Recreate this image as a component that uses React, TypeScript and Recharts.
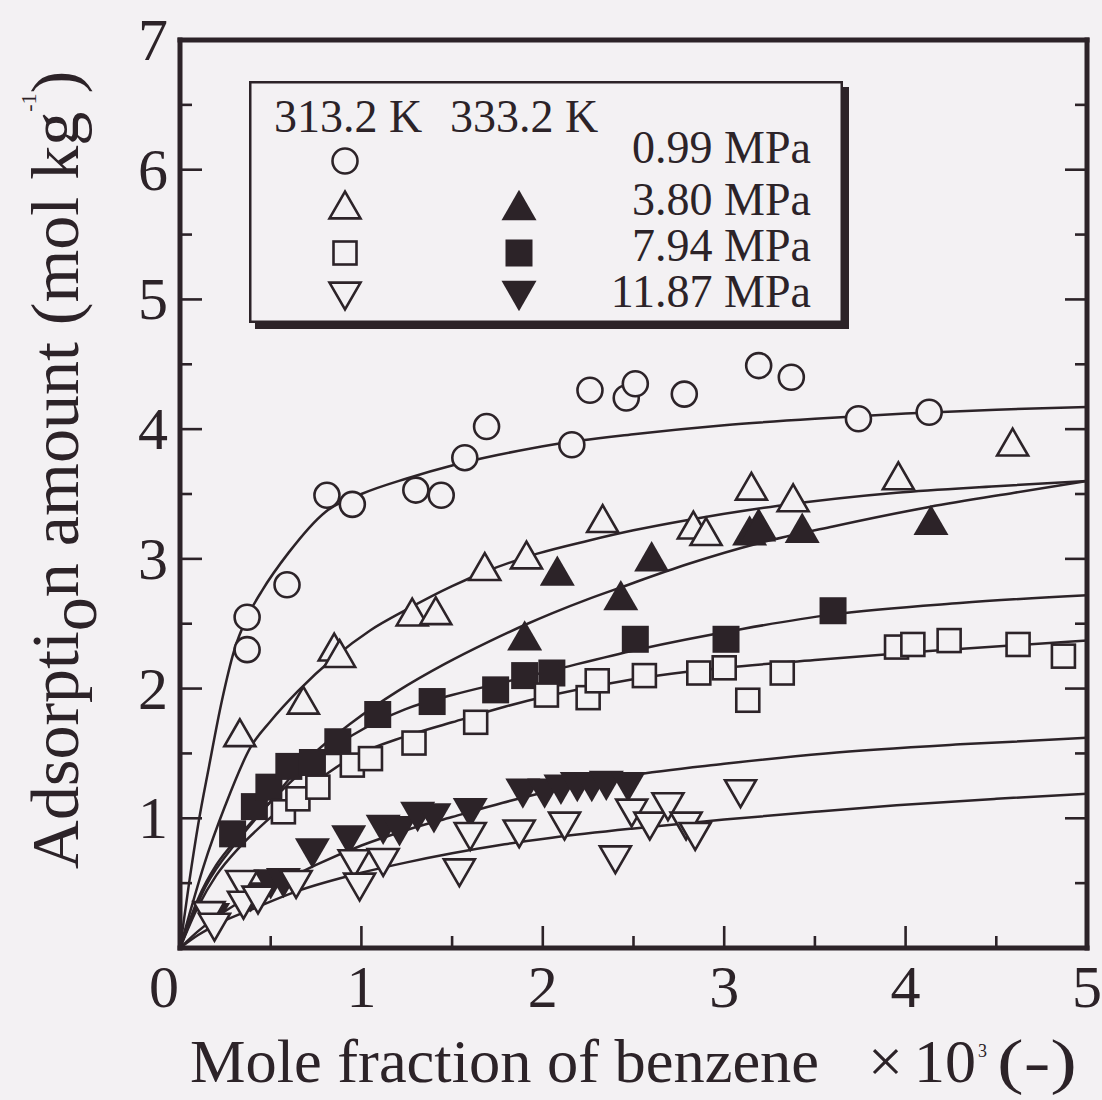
import React from 'react';
import { ComposedChart, XAxis, YAxis, Line, Scatter, Legend } from 'recharts';

type Pt = { x: number; y: number };

const INK = '#2c2328';
const PAPER = '#f3f1f3';
const SERIF = '"Liberation Serif", "Times New Roman", Times, serif';

const W = 1102;
const H = 1100;
// each axis strip is 1px thick, so the plot box spans x 180..1087, y 40..948
const MARGIN = { top: 39, right: 14, bottom: 151, left: 179 };

// axis ticks: integers are labelled, halves are minor marks
const X_TICKS = [0, 0.5, 1, 1.5, 2, 2.5, 3, 3.5, 4, 4.5, 5];
const Y_TICKS = [0, 0.5, 1, 1.5, 2, 2.5, 3, 3.5, 4, 4.5, 5, 5.5, 6, 6.5, 7];

const pts = (a: number[][]): Pt[] => a.map(([x, y]) => ({ x, y }));

// ---- measured adsorption amounts ----
// 313.2 K, 0.99 MPa
const k313p099 = pts([
  [0.37, 2.55], [0.37, 2.3], [0.59, 2.8], [0.81, 3.49], [0.95, 3.42], [1.3, 3.53],
  [1.44, 3.49], [1.57, 3.78], [1.69, 4.02], [2.16, 3.88], [2.26, 4.3], [2.46, 4.24],
  [2.51, 4.35], [2.78, 4.27], [3.19, 4.49], [3.37, 4.4], [3.74, 4.08], [4.13, 4.13],
]);
// 313.2 K, 3.80 MPa
const k313p380 = pts([
  [0.33, 1.66], [0.68, 1.91], [0.85, 2.32], [0.88, 2.27], [1.28, 2.59], [1.41, 2.6],
  [1.68, 2.94], [1.91, 3.03], [2.33, 3.31], [2.83, 3.26], [2.9, 3.21], [3.19, 3.27],
  [3.15, 3.56], [3.38, 3.47], [3.96, 3.64], [4.59, 3.9],
]);
// 333.2 K, 3.80 MPa
const k333p380 = pts([
  [1.9, 2.41], [2.08, 2.91], [2.43, 2.72], [2.6, 3.02], [3.14, 3.22], [3.19, 3.25],
  [3.43, 3.24], [4.14, 3.3],
]);
// 313.2 K, 7.94 MPa
const k313p794 = pts([
  [0.57, 1.05], [0.65, 1.15], [0.76, 1.24], [0.95, 1.41], [1.05, 1.46], [1.29, 1.58],
  [1.63, 1.74], [2.02, 1.95], [2.25, 1.93], [2.3, 2.06], [2.56, 2.1], [2.86, 2.12],
  [3.0, 2.16], [3.13, 1.91], [3.32, 2.12], [3.95, 2.32], [4.04, 2.34], [4.24, 2.37],
  [4.62, 2.34], [4.87, 2.25],
]);
// 333.2 K, 7.94 MPa
const k333p794 = pts([
  [0.29, 0.88], [0.41, 1.09], [0.49, 1.24], [0.6, 1.4], [0.73, 1.43], [0.87, 1.59],
  [1.09, 1.8], [1.39, 1.9], [1.74, 1.99], [1.9, 2.1], [2.05, 2.12], [2.51, 2.38],
  [3.01, 2.38], [3.6, 2.6],
]);
// 313.2 K, 11.87 MPa
const k313p1187 = pts([
  [0.16, 0.25], [0.19, 0.16], [0.34, 0.49], [0.35, 0.33], [0.43, 0.37], [0.64, 0.49],
  [0.96, 0.65], [0.99, 0.47], [1.12, 0.66], [1.54, 0.58], [1.6, 0.86], [1.87, 0.88],
  [2.12, 0.94], [2.4, 0.68], [2.49, 1.04], [2.59, 0.94], [2.69, 1.09], [2.79, 0.94],
  [2.84, 0.86], [3.09, 1.19],
]);
// 333.2 K, 11.87 MPa
const k333p1187 = pts([
  [0.18, 0.23], [0.39, 0.39], [0.5, 0.49], [0.57, 0.5], [0.73, 0.73], [0.93, 0.83],
  [1.12, 0.91], [1.21, 0.9], [1.31, 1.01], [1.4, 1.0], [1.6, 1.04], [1.89, 1.19],
  [2.01, 1.19], [2.1, 1.22], [2.19, 1.24], [2.27, 1.24], [2.35, 1.25], [2.47, 1.24],
]);

// ---- correlated isotherm curves ----
const fit313p099 = pts([
  [0, 0], [0.05, 0.5], [0.1, 0.95], [0.16, 1.4], [0.23, 1.9], [0.3, 2.3], [0.37, 2.55],
  [0.45, 2.75], [0.6, 3.05], [0.8, 3.36], [1.0, 3.5], [1.25, 3.62], [1.5, 3.72],
  [1.75, 3.8], [2.05, 3.88], [2.5, 3.96], [3.0, 4.03], [3.5, 4.08], [4.0, 4.12],
  [4.5, 4.15], [5, 4.17],
]);
const fit313p380 = pts([
  [0, 0], [0.05, 0.25], [0.13, 0.63], [0.25, 1.1], [0.39, 1.55], [0.5, 1.75], [0.65, 1.98],
  [0.85, 2.24], [1.05, 2.45], [1.25, 2.61], [1.5, 2.79], [1.7, 2.91], [1.97, 3.04],
  [2.25, 3.14], [2.5, 3.22], [2.8, 3.3], [3.3, 3.41], [3.95, 3.51], [4.5, 3.56], [5, 3.6],
]);
const fit333p380 = pts([
  [0, 0], [0.14, 0.47], [0.32, 0.83], [0.5, 1.13], [0.65, 1.38], [0.95, 1.74], [1.2, 1.98],
  [1.46, 2.19], [1.7, 2.36], [1.9, 2.49], [2.05, 2.58], [2.25, 2.69], [2.43, 2.78],
  [2.8, 2.96], [3.19, 3.12], [3.6, 3.25], [4.13, 3.4], [4.6, 3.51], [5, 3.6],
]);
const fit333p794 = pts([
  [0, 0], [0.1, 0.38], [0.2, 0.64], [0.3, 0.82], [0.42, 1.01], [0.55, 1.2], [0.69, 1.38],
  [0.95, 1.64], [1.24, 1.84], [1.5, 1.95], [1.79, 2.05], [2.05, 2.14], [2.52, 2.3],
  [3.1, 2.46], [3.59, 2.57], [4.3, 2.66], [5, 2.72],
]);
const fit313p794 = pts([
  [0, 0], [0.1, 0.32], [0.2, 0.56], [0.33, 0.78], [0.47, 0.97], [0.69, 1.22], [0.95, 1.47],
  [1.24, 1.63], [1.5, 1.74], [1.79, 1.86], [2.05, 1.95], [2.49, 2.07], [3.0, 2.16],
  [3.5, 2.22], [4.13, 2.29], [5, 2.37],
]);
const fit333p1187 = pts([
  [0, 0], [0.1, 0.13], [0.3, 0.33], [0.55, 0.5], [0.75, 0.64], [1.0, 0.79], [1.25, 0.91],
  [1.5, 1.01], [1.78, 1.12], [2.1, 1.23], [2.48, 1.33], [3.0, 1.42], [3.56, 1.5],
  [4.3, 1.57], [5, 1.62],
]);
const fit313p1187 = pts([
  [0, 0], [0.1, 0.1], [0.23, 0.2], [0.4, 0.3], [0.65, 0.44], [1.0, 0.58], [1.25, 0.66],
  [1.5, 0.73], [1.79, 0.8], [2.05, 0.85], [2.49, 0.92], [3.0, 0.99], [3.5, 1.05],
  [3.95, 1.1], [4.5, 1.15], [5, 1.19],
]);

const FITS = [fit313p099, fit313p380, fit333p380, fit333p794, fit313p794, fit333p1187, fit313p1187];

// ---- marker glyphs ----
const SW = 2.6;
const tri = (cx: number, cy: number, side: number, up: boolean) => {
  const h = (side * Math.sqrt(3)) / 2;
  const apex = up ? cy - h / 2 : cy + h / 2;
  const base = up ? cy + h / 2 : cy - h / 2;
  return `${cx},${apex} ${cx - side / 2},${base} ${cx + side / 2},${base}`;
};

type Glyph = (cx: number, cy: number) => React.ReactElement;
const openCircle: Glyph = (cx, cy) => (
  <circle cx={cx} cy={cy} r={12.5} fill={PAPER} stroke={INK} strokeWidth={SW} />
);
const openUp: Glyph = (cx, cy) => (
  <polygon points={tri(cx, cy, 31, true)} fill={PAPER} stroke={INK} strokeWidth={SW} />
);
const solidUp: Glyph = (cx, cy) => <polygon points={tri(cx, cy, 35, true)} fill={INK} />;
const openSquare: Glyph = (cx, cy) => (
  <rect x={cx - 11.5} y={cy - 11.5} width={23} height={23} fill={PAPER} stroke={INK} strokeWidth={SW} />
);
const solidSquare: Glyph = (cx, cy) => (
  <rect x={cx - 13.5} y={cy - 13.5} width={27} height={27} fill={INK} />
);
const openDown: Glyph = (cx, cy) => (
  <polygon points={tri(cx, cy, 31, false)} fill={PAPER} stroke={INK} strokeWidth={SW} />
);
const solidDown: Glyph = (cx, cy) => <polygon points={tri(cx, cy, 35, false)} fill={INK} />;

const shapeOf = (g: Glyph) => (p: any) => g(p.cx, p.cy);

// ---- frame ticks (pointing inwards on all four sides) ----
const isInt = (v: number) => Math.abs(v - Math.round(v)) < 1e-6;
const tickLen = (v: number) => (isInt(v) ? 22 : 12);
const TICK_W = 2.6;

const BottomTick = (p: any) => {
  const v = p.payload.value;
  return (
    <g>
      <line x1={p.x} y1={p.y} x2={p.x} y2={p.y - tickLen(v)} stroke={INK} strokeWidth={TICK_W} />
      {isInt(v) && (
        <text x={p.x + (v === 0 ? -16 : 0)} y={p.y + 59} textAnchor="middle" fontSize={60} fontFamily={SERIF} fill={INK}>
          {v}
        </text>
      )}
    </g>
  );
};
const TopTick = (p: any) => (
  <line x1={p.x} y1={p.y} x2={p.x} y2={p.y + tickLen(p.payload.value)} stroke={INK} strokeWidth={TICK_W} />
);
const LeftTick = (p: any) => {
  const v = p.payload.value;
  return (
    <g>
      <line x1={p.x} y1={p.y} x2={p.x + tickLen(v)} y2={p.y} stroke={INK} strokeWidth={TICK_W} />
      {isInt(v) && v > 0 && (
        <text x={p.x - 12} y={p.y + 20} textAnchor="end" fontSize={60} fontFamily={SERIF} fill={INK}>
          {v}
        </text>
      )}
    </g>
  );
};
const RightTick = (p: any) => (
  <line x1={p.x} y1={p.y} x2={p.x - tickLen(p.payload.value)} y2={p.y} stroke={INK} strokeWidth={TICK_W} />
);

const FRAME = { stroke: INK, strokeWidth: 5, strokeLinecap: 'square' as const };

// ---- legend panel ----
const LEGEND_ROWS = ['0.99 MPa', '3.80 MPa', '7.94 MPa', '11.87 MPa'];
const LEGEND_313: Glyph[] = [openCircle, openUp, openSquare, openDown];
const LEGEND_333: (Glyph | null)[] = [null, solidUp, solidSquare, solidDown];
const ROW_MARK_Y = [80, 124, 172, 215];
const ROW_TEXT_Y = [82, 134, 180, 226];

const LegendPanel = () => (
  <svg width={606} height={254} style={{ display: 'block', overflow: 'visible' }}>
    <rect x={6} y={6} width={594} height={242} fill={INK} />
    <rect x={1.25} y={1.25} width={591.5} height={239.5} fill={PAPER} stroke={INK} strokeWidth={2.5} />
    <text x={25} y={51} fontSize={46} fontFamily={SERIF} fill={INK}>313.2 K</text>
    <text x={201} y={51} fontSize={46} fontFamily={SERIF} fill={INK}>333.2 K</text>
    {LEGEND_ROWS.map((label, i) => (
      <g key={label}>
        {LEGEND_313[i](96, ROW_MARK_Y[i])}
        {LEGEND_333[i] ? (LEGEND_333[i] as Glyph)(270, ROW_MARK_Y[i]) : null}
        <text x={562} y={ROW_TEXT_Y[i]} textAnchor="end" fontSize={46} fontFamily={SERIF} fill={INK}>
          {label}
        </text>
      </g>
    ))}
  </svg>
);

const AxisTitles = () => (
  <g fontFamily={SERIF} fill={INK}>
    <text x={190} y={1082} fontSize={62}>
      <tspan textLength={629} lengthAdjust="spacingAndGlyphs">Mole fraction of benzene</tspan>
      <tspan x={868}>×</tspan>
      <tspan x={914}>10</tspan>
      <tspan x={978} dy={-25} fontSize={18}>3</tspan>
      <tspan x={997} dy={25} textLength={80} lengthAdjust="spacingAndGlyphs">(-)</tspan>
    </text>
    <text x={78} y={470} fontSize={68} textAnchor="middle" transform="rotate(-90, 78, 470)">
      Adsorpti
      <tspan dy={18}>o</tspan>
      <tspan dy={-18}>n amount (mol kg</tspan>
      <tspan dy={-42} fontSize={22}>-1</tspan>
      <tspan dy={42}>)</tspan>
    </text>
  </g>
);

export default function App() {
  return (
    <div style={{ position: 'absolute', left: 0, top: 0, width: W, height: H, background: PAPER }}>
      <ComposedChart width={W} height={H} margin={MARGIN}>
        <XAxis
          xAxisId={0}
          type="number"
          dataKey="x"
          domain={[0, 5]}
          ticks={X_TICKS}
          interval={0}
          height={1}
          tickSize={0}
          tickMargin={0}
          tickLine={false}
          tick={BottomTick}
          axisLine={FRAME}
          allowDataOverflow
        />
        <XAxis
          xAxisId="top"
          orientation="top"
          type="number"
          domain={[0, 5]}
          ticks={X_TICKS}
          interval={0}
          height={1}
          tickSize={0}
          tickMargin={0}
          tickLine={false}
          tick={TopTick}
          axisLine={FRAME}
          allowDataOverflow
        />
        <YAxis
          yAxisId={0}
          type="number"
          domain={[0, 7]}
          ticks={Y_TICKS}
          interval={0}
          width={1}
          tickSize={0}
          tickMargin={0}
          tickLine={false}
          tick={LeftTick}
          axisLine={FRAME}
          allowDataOverflow
        />
        <YAxis
          yAxisId="right"
          orientation="right"
          type="number"
          domain={[0, 7]}
          ticks={Y_TICKS}
          interval={0}
          width={1}
          tickSize={0}
          tickMargin={0}
          tickLine={false}
          tick={RightTick}
          axisLine={FRAME}
          allowDataOverflow
        />
        {FITS.map((d, i) => (
          <Line
            key={`fit-${i}`}
            xAxisId={0}
            yAxisId={0}
            data={d}
            dataKey="y"
            type="monotone"
            stroke={INK}
            strokeWidth={2.5}
            dot={false}
            activeDot={false}
            isAnimationActive={false}
          />
        ))}
        <Scatter xAxisId={0} yAxisId={0} data={k313p099} dataKey="y" shape={shapeOf(openCircle)} isAnimationActive={false} />
        <Scatter xAxisId={0} yAxisId={0} data={k313p380} dataKey="y" shape={shapeOf(openUp)} isAnimationActive={false} />
        <Scatter xAxisId={0} yAxisId={0} data={k333p380} dataKey="y" shape={shapeOf(solidUp)} isAnimationActive={false} />
        <Scatter xAxisId={0} yAxisId={0} data={k333p794} dataKey="y" shape={shapeOf(solidSquare)} isAnimationActive={false} />
        <Scatter xAxisId={0} yAxisId={0} data={k313p794} dataKey="y" shape={shapeOf(openSquare)} isAnimationActive={false} />
        <Scatter xAxisId={0} yAxisId={0} data={k333p1187} dataKey="y" shape={shapeOf(solidDown)} isAnimationActive={false} />
        <Scatter xAxisId={0} yAxisId={0} data={k313p1187} dataKey="y" shape={shapeOf(openDown)} isAnimationActive={false} />
        <Legend
          layout="vertical"
          align="center"
          verticalAlign="middle"
          content={() => <LegendPanel />}
          wrapperStyle={{ position: 'absolute', left: 249, top: 81, width: 606, height: 254 }}
        />
        <AxisTitles />
      </ComposedChart>
    </div>
  );
}
